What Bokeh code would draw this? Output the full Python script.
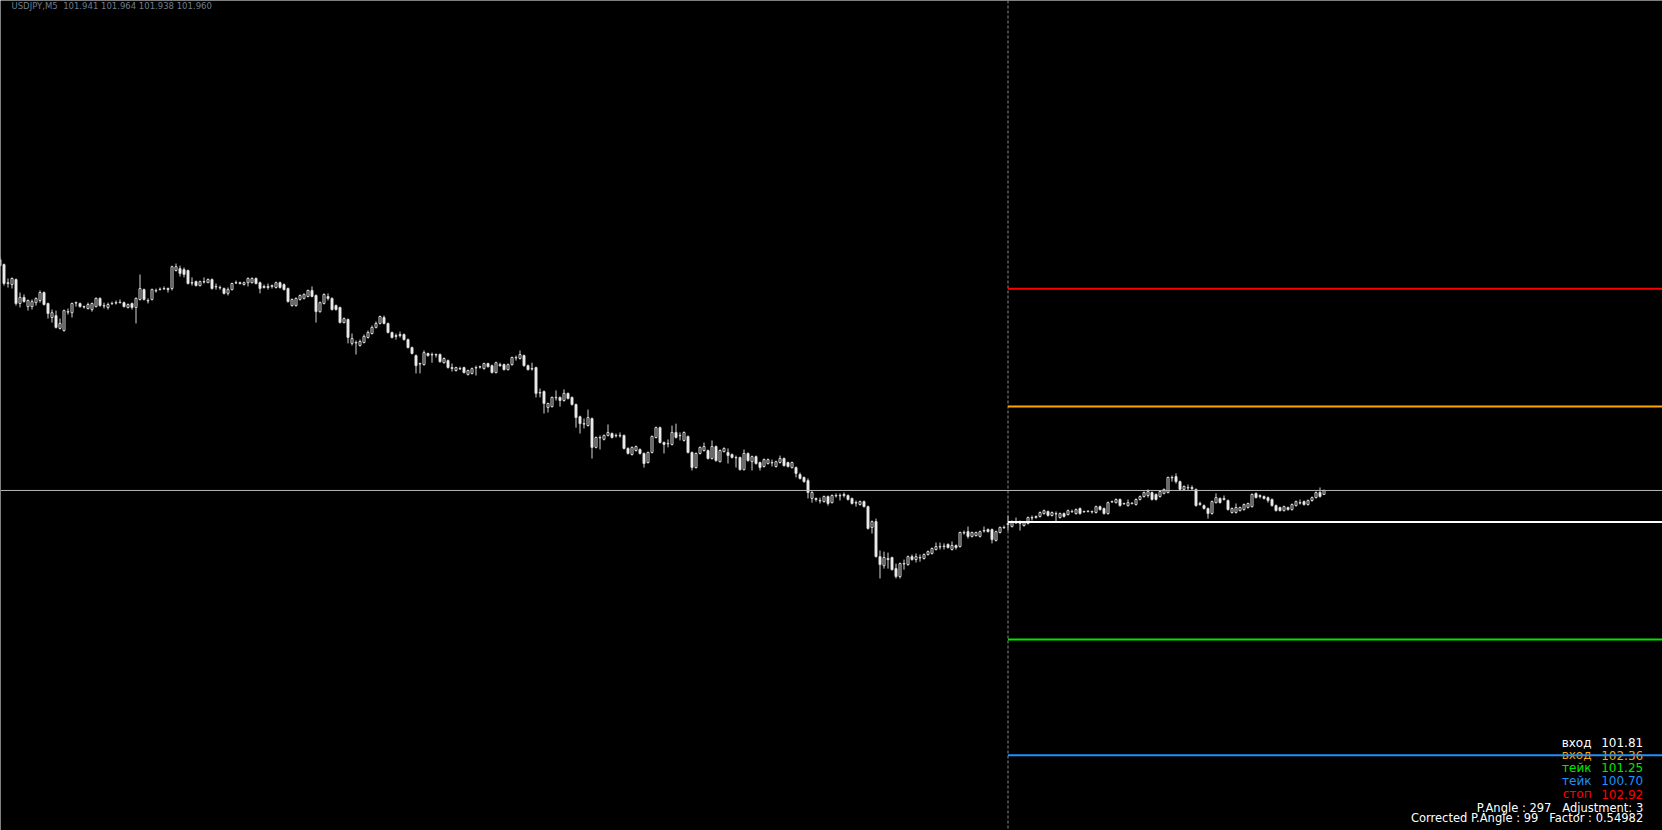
import numpy as np
from bokeh.plotting import figure
from bokeh.models import Range1d, Span, Label
from bokeh.embed import file_html
from bokeh.resources import INLINE

# ---------------- data (USDJPY M5) ----------------
symbol = "USDJPY,M5"

open_ = [
    103.059, 103.035, 102.945, 102.940, 102.964, 102.850, 102.879, 102.835, 102.835, 102.854,
    102.864, 102.902, 102.850, 102.783, 102.792, 102.731, 102.721, 102.811, 102.806, 102.854,
    102.850, 102.835, 102.826, 102.821, 102.835, 102.874, 102.840, 102.831, 102.850, 102.854,
    102.854, 102.854, 102.831, 102.850, 102.831, 102.869, 102.916, 102.864, 102.869, 102.912,
    102.916, 102.921, 102.921, 102.921, 103.007, 103.016, 103.011, 103.007, 102.949, 102.954,
    102.935, 102.954, 102.949, 102.964, 102.931, 102.926, 102.921, 102.898, 102.916, 102.949,
    102.949, 102.940, 102.949, 102.949, 102.969, 102.949, 102.931, 102.931, 102.931, 102.926,
    102.949, 102.940, 102.921, 102.840, 102.840, 102.869, 102.874, 102.883, 102.912, 102.888,
    102.811, 102.850, 102.883, 102.874, 102.840, 102.831, 102.759, 102.774, 102.660, 102.664,
    102.650, 102.664, 102.688, 102.707, 102.736, 102.755, 102.783, 102.755, 102.712, 102.697,
    102.702, 102.702, 102.678, 102.640, 102.602, 102.564, 102.559, 102.612, 102.607, 102.607,
    102.607, 102.568, 102.578, 102.545, 102.531, 102.540, 102.545, 102.512, 102.517, 102.545,
    102.549, 102.540, 102.564, 102.554, 102.521, 102.559, 102.559, 102.535, 102.559, 102.593,
    102.588, 102.602, 102.554, 102.540, 102.545, 102.426, 102.431, 102.355, 102.359, 102.403,
    102.403, 102.388, 102.422, 102.403, 102.369, 102.311, 102.278, 102.269, 102.302, 102.165,
    102.212, 102.203, 102.222, 102.231, 102.222, 102.222, 102.222, 102.160, 102.131, 102.150,
    102.155, 102.136, 102.093, 102.141, 102.212, 102.259, 102.188, 102.184, 102.179, 102.236,
    102.222, 102.198, 102.217, 102.141, 102.069, 102.136, 102.150, 102.150, 102.112, 102.169,
    102.097, 102.145, 102.141, 102.131, 102.117, 102.117, 102.059, 102.136, 102.097, 102.121,
    102.093, 102.074, 102.088, 102.093, 102.074, 102.093, 102.112, 102.093, 102.069, 102.069,
    102.036, 102.022, 102.007, 101.922, 101.922, 101.912, 101.907, 101.931, 101.902, 101.936,
    101.936, 101.941, 101.936, 101.922, 101.902, 101.893, 101.907, 101.883, 101.784, 101.812,
    101.645, 101.602, 101.636, 101.641, 101.588, 101.550, 101.612, 101.607, 101.645, 101.631,
    101.641, 101.636, 101.655, 101.660, 101.679, 101.693, 101.693, 101.703, 101.679, 101.698,
    101.693, 101.760, 101.764, 101.741, 101.745, 101.741, 101.769, 101.774, 101.774, 101.722,
    101.760, 101.784, 101.798, 101.788, 101.807, 101.812, 101.793, 101.803, 101.831, 101.831,
    101.836, 101.850, 101.860, 101.841, 101.850, 101.831, 101.850, 101.845, 101.860, 101.850,
    101.874, 101.860, 101.860, 101.860, 101.855, 101.883, 101.874, 101.850, 101.907, 101.902,
    101.917, 101.898, 101.888, 101.898, 101.893, 101.917, 101.931, 101.936, 101.950, 101.941,
    101.931, 101.946, 101.950, 102.022, 102.026, 102.002, 101.965, 101.974, 101.974, 101.965,
    101.893, 101.888, 101.874, 101.850, 101.902, 101.922, 101.917, 101.912, 101.855, 101.855,
    101.864, 101.869, 101.879, 101.883, 101.946, 101.931, 101.931, 101.926, 101.917, 101.888,
    101.879, 101.864, 101.879, 101.869, 101.888, 101.902, 101.907, 101.893, 101.912, 101.926,
    101.950, 101.941,
]

high = [
    103.073, 103.040, 102.969, 102.974, 102.969, 102.902, 102.893, 102.869, 102.869, 102.879,
    102.912, 102.907, 102.854, 102.821, 102.816, 102.778, 102.821, 102.826, 102.854, 102.859,
    102.854, 102.840, 102.854, 102.854, 102.879, 102.879, 102.854, 102.854, 102.859, 102.864,
    102.869, 102.859, 102.850, 102.854, 102.879, 102.988, 102.921, 102.874, 102.921, 102.921,
    102.926, 102.931, 102.926, 103.030, 103.040, 103.030, 103.021, 103.011, 102.974, 102.959,
    102.959, 102.974, 102.969, 102.969, 102.945, 102.935, 102.926, 102.926, 102.949, 102.959,
    102.954, 102.954, 102.974, 102.974, 102.974, 102.954, 102.940, 102.945, 102.940, 102.954,
    102.954, 102.945, 102.926, 102.874, 102.879, 102.893, 102.898, 102.916, 102.931, 102.893,
    102.859, 102.898, 102.898, 102.879, 102.845, 102.835, 102.783, 102.778, 102.707, 102.674,
    102.678, 102.702, 102.721, 102.745, 102.764, 102.792, 102.792, 102.759, 102.716, 102.707,
    102.716, 102.707, 102.683, 102.645, 102.607, 102.568, 102.626, 102.616, 102.616, 102.612,
    102.612, 102.593, 102.583, 102.564, 102.549, 102.549, 102.549, 102.535, 102.545, 102.554,
    102.554, 102.568, 102.568, 102.559, 102.573, 102.568, 102.564, 102.564, 102.597, 102.602,
    102.626, 102.607, 102.559, 102.568, 102.549, 102.445, 102.436, 102.378, 102.407, 102.436,
    102.407, 102.441, 102.426, 102.407, 102.374, 102.316, 102.302, 102.345, 102.307, 102.217,
    102.222, 102.226, 102.274, 102.236, 102.231, 102.236, 102.226, 102.165, 102.169, 102.174,
    102.160, 102.141, 102.145, 102.222, 102.264, 102.264, 102.193, 102.203, 102.269, 102.278,
    102.236, 102.241, 102.222, 102.145, 102.141, 102.169, 102.188, 102.155, 102.198, 102.174,
    102.155, 102.165, 102.160, 102.136, 102.126, 102.121, 102.155, 102.141, 102.126, 102.126,
    102.097, 102.112, 102.112, 102.107, 102.102, 102.126, 102.117, 102.097, 102.097, 102.074,
    102.045, 102.026, 102.017, 101.960, 101.926, 101.926, 101.936, 101.936, 101.941, 101.946,
    101.946, 101.950, 101.941, 101.926, 101.912, 101.912, 101.912, 101.888, 101.817, 101.826,
    101.674, 101.669, 101.664, 101.645, 101.612, 101.617, 101.631, 101.650, 101.655, 101.660,
    101.655, 101.660, 101.674, 101.688, 101.712, 101.712, 101.708, 101.708, 101.717, 101.703,
    101.764, 101.769, 101.788, 101.764, 101.764, 101.769, 101.788, 101.779, 101.779, 101.769,
    101.788, 101.793, 101.841, 101.817, 101.831, 101.817, 101.812, 101.836, 101.841, 101.841,
    101.860, 101.869, 101.864, 101.860, 101.860, 101.855, 101.855, 101.869, 101.869, 101.874,
    101.879, 101.864, 101.864, 101.864, 101.888, 101.888, 101.879, 101.907, 101.912, 101.922,
    101.922, 101.902, 101.917, 101.902, 101.922, 101.936, 101.955, 101.965, 101.955, 101.946,
    101.960, 101.969, 102.026, 102.031, 102.041, 102.007, 101.984, 101.988, 101.984, 101.969,
    101.907, 101.893, 101.879, 101.912, 101.946, 101.926, 101.936, 101.917, 101.879, 101.898,
    101.883, 101.898, 101.902, 101.946, 101.950, 101.941, 101.936, 101.931, 101.922, 101.893,
    101.883, 101.888, 101.883, 101.898, 101.912, 101.917, 101.912, 101.917, 101.931, 101.955,
    101.974, 101.964,
]

low = [
    103.025, 102.935, 102.926, 102.921, 102.840, 102.831, 102.854, 102.816, 102.821, 102.840,
    102.854, 102.840, 102.778, 102.759, 102.731, 102.726, 102.716, 102.797, 102.783, 102.835,
    102.831, 102.826, 102.821, 102.811, 102.831, 102.835, 102.826, 102.821, 102.845, 102.845,
    102.850, 102.831, 102.826, 102.821, 102.755, 102.864, 102.864, 102.850, 102.864, 102.902,
    102.912, 102.916, 102.902, 102.912, 103.002, 102.978, 102.974, 102.940, 102.935, 102.931,
    102.931, 102.945, 102.947, 102.916, 102.916, 102.916, 102.893, 102.888, 102.912, 102.945,
    102.940, 102.935, 102.931, 102.945, 102.940, 102.898, 102.921, 102.916, 102.921, 102.921,
    102.921, 102.912, 102.854, 102.835, 102.835, 102.864, 102.869, 102.879, 102.879, 102.759,
    102.806, 102.845, 102.864, 102.816, 102.816, 102.755, 102.755, 102.660, 102.650, 102.607,
    102.645, 102.660, 102.683, 102.702, 102.731, 102.750, 102.750, 102.707, 102.683, 102.678,
    102.688, 102.674, 102.636, 102.607, 102.517, 102.517, 102.554, 102.597, 102.568, 102.593,
    102.568, 102.564, 102.540, 102.526, 102.526, 102.535, 102.517, 102.507, 102.512, 102.507,
    102.540, 102.535, 102.545, 102.517, 102.517, 102.549, 102.531, 102.531, 102.554, 102.578,
    102.583, 102.549, 102.531, 102.531, 102.403, 102.403, 102.326, 102.331, 102.355, 102.388,
    102.359, 102.383, 102.393, 102.364, 102.259, 102.231, 102.255, 102.264, 102.112, 102.160,
    102.155, 102.198, 102.217, 102.207, 102.212, 102.212, 102.155, 102.131, 102.126, 102.145,
    102.131, 102.069, 102.088, 102.136, 102.207, 102.184, 102.136, 102.165, 102.174, 102.207,
    102.198, 102.193, 102.136, 102.055, 102.064, 102.131, 102.145, 102.107, 102.107, 102.097,
    102.093, 102.141, 102.088, 102.112, 102.069, 102.055, 102.055, 102.097, 102.055, 102.083,
    102.055, 102.069, 102.083, 102.074, 102.069, 102.088, 102.074, 102.069, 102.064, 102.022,
    102.012, 101.997, 101.922, 101.902, 101.907, 101.898, 101.902, 101.888, 101.898, 101.926,
    101.912, 101.926, 101.912, 101.893, 101.883, 101.888, 101.879, 101.774, 101.755, 101.641,
    101.541, 101.588, 101.588, 101.579, 101.541, 101.541, 101.583, 101.602, 101.626, 101.617,
    101.621, 101.631, 101.650, 101.655, 101.674, 101.679, 101.679, 101.684, 101.674, 101.679,
    101.688, 101.750, 101.731, 101.736, 101.741, 101.736, 101.760, 101.760, 101.708, 101.717,
    101.755, 101.779, 101.769, 101.784, 101.803, 101.769, 101.788, 101.798, 101.817, 101.826,
    101.831, 101.845, 101.836, 101.836, 101.807, 101.826, 101.831, 101.841, 101.855, 101.845,
    101.845, 101.855, 101.855, 101.850, 101.850, 101.864, 101.845, 101.845, 101.902, 101.898,
    101.883, 101.893, 101.883, 101.893, 101.888, 101.912, 101.926, 101.926, 101.912, 101.912,
    101.926, 101.941, 101.946, 102.002, 101.993, 101.960, 101.960, 101.960, 101.960, 101.883,
    101.888, 101.869, 101.826, 101.845, 101.898, 101.898, 101.912, 101.864, 101.850, 101.850,
    101.860, 101.864, 101.874, 101.879, 101.922, 101.922, 101.917, 101.902, 101.883, 101.860,
    101.860, 101.860, 101.864, 101.864, 101.883, 101.893, 101.888, 101.888, 101.907, 101.922,
    101.926, 101.938,
]

close = [
    103.030, 102.945, 102.949, 102.969, 102.850, 102.879, 102.859, 102.864, 102.859, 102.874,
    102.902, 102.845, 102.802, 102.806, 102.736, 102.755, 102.816, 102.809, 102.850, 102.852,
    102.835, 102.833, 102.845, 102.850, 102.874, 102.840, 102.838, 102.845, 102.848, 102.852,
    102.856, 102.835, 102.845, 102.831, 102.874, 102.921, 102.869, 102.862, 102.916, 102.910,
    102.918, 102.919, 102.916, 103.025, 103.025, 102.993, 102.988, 102.945, 102.947, 102.935,
    102.954, 102.952, 102.964, 102.921, 102.929, 102.924, 102.898, 102.916, 102.945, 102.947,
    102.945, 102.949, 102.969, 102.969, 102.945, 102.921, 102.926, 102.926, 102.935, 102.949,
    102.926, 102.916, 102.859, 102.869, 102.874, 102.888, 102.893, 102.912, 102.883, 102.811,
    102.854, 102.893, 102.874, 102.821, 102.821, 102.759, 102.778, 102.688, 102.683, 102.662,
    102.669, 102.693, 102.712, 102.736, 102.755, 102.788, 102.755, 102.712, 102.688, 102.693,
    102.697, 102.678, 102.640, 102.612, 102.554, 102.562, 102.616, 102.602, 102.605, 102.605,
    102.573, 102.588, 102.545, 102.540, 102.545, 102.538, 102.521, 102.531, 102.540, 102.543,
    102.547, 102.564, 102.549, 102.521, 102.568, 102.554, 102.535, 102.559, 102.593, 102.591,
    102.607, 102.554, 102.535, 102.538, 102.422, 102.424, 102.374, 102.374, 102.403, 102.401,
    102.388, 102.422, 102.398, 102.369, 102.307, 102.278, 102.276, 102.307, 102.165, 102.212,
    102.210, 102.222, 102.236, 102.212, 102.220, 102.220, 102.160, 102.136, 102.165, 102.169,
    102.136, 102.088, 102.141, 102.217, 102.259, 102.188, 102.179, 102.182, 102.236, 102.212,
    102.220, 102.236, 102.141, 102.069, 102.136, 102.165, 102.169, 102.112, 102.169, 102.102,
    102.150, 102.160, 102.126, 102.117, 102.115, 102.059, 102.136, 102.102, 102.121, 102.088,
    102.069, 102.107, 102.107, 102.091, 102.097, 102.112, 102.078, 102.074, 102.093, 102.041,
    102.017, 102.002, 101.950, 101.950, 101.917, 101.910, 101.931, 101.898, 101.936, 101.934,
    101.934, 101.936, 101.917, 101.898, 101.900, 101.907, 101.883, 101.779, 101.812, 101.645,
    101.607, 101.641, 101.631, 101.583, 101.550, 101.612, 101.610, 101.645, 101.631, 101.645,
    101.639, 101.655, 101.669, 101.684, 101.693, 101.691, 101.695, 101.688, 101.698, 101.688,
    101.760, 101.758, 101.741, 101.760, 101.760, 101.764, 101.767, 101.764, 101.726, 101.764,
    101.784, 101.782, 101.803, 101.812, 101.805, 101.803, 101.807, 101.831, 101.829, 101.836,
    101.855, 101.864, 101.841, 101.855, 101.848, 101.850, 101.836, 101.864, 101.858, 101.869,
    101.850, 101.858, 101.862, 101.858, 101.883, 101.869, 101.850, 101.902, 101.905, 101.917,
    101.888, 101.896, 101.902, 101.900, 101.917, 101.931, 101.950, 101.955, 101.917, 101.917,
    101.955, 101.965, 102.022, 102.020, 102.002, 101.965, 101.979, 101.972, 101.969, 101.888,
    101.898, 101.874, 101.850, 101.907, 101.926, 101.902, 101.922, 101.869, 101.874, 101.879,
    101.879, 101.893, 101.898, 101.941, 101.926, 101.936, 101.922, 101.912, 101.888, 101.864,
    101.864, 101.883, 101.869, 101.893, 101.907, 101.900, 101.893, 101.912, 101.926, 101.950,
    101.931, 101.960,
]

# trade levels (label, price) in the order they are listed in the panel
level_names = ["вход", "вход", "тейк", "тейк", "стоп"]
level_prices = [101.81, 102.36, 101.25, 100.70, 102.92]
level_colors = ["#ffffff", "#ffa500", "#00e600", "#1e90ff", "#ff0000"]

signal_bar = 252          # bar where the vertical marker / levels start
p_angle = 297
adjustment = 3
corrected_p_angle = 99
factor = 0.54982

# ---------------- layout constants ----------------
W, H = 1662, 830
PX_PER_BAR = 4.0
PX_PER_PRICE = 210.1
X_START = 0.125
Y_TOP = 104.292

CANDLE_LINE = "#d4d4d4"
BEAR_FILL = "#ffffff"
BULL_FILL = "#000000"
FONT = "DejaVu Sans"
NB = "\u00a0"

o = np.array(open_)
h = np.array(high)
l = np.array(low)
c = np.array(close)
idx = np.arange(len(o))

x_end = X_START + W / PX_PER_BAR
p = figure(
    width=W, height=H,
    x_range=Range1d(X_START, x_end),
    y_range=Range1d(Y_TOP - H / PX_PER_PRICE, Y_TOP),
    output_backend="svg", toolbar_location=None,
    x_axis_location=None, y_axis_location=None,
    background_fill_color="black", border_fill_color="black",
    min_border=0, outline_line_color=None,
)
p.grid.visible = False

# bid line (last close)
p.add_layout(Span(location=float(c[-1]), dimension="width",
                  line_color="#b8b8b8", line_width=1))

# vertical dashed marker
p.add_layout(Span(location=signal_bar, dimension="height",
                  line_color="#8c8c8c", line_width=1, line_dash="3 2"))

# candles
p.segment(x0=idx, y0=h, x1=idx, y1=l, line_color=CANDLE_LINE, line_width=1)
top = np.maximum(o, c)
bot = np.minimum(o, c)
top = np.where(top - bot < 0.0006, bot + 0.0006, top)
fills = [BULL_FILL if cc > oo else BEAR_FILL for oo, cc in zip(o, c)]
p.vbar(x=idx, width=0.5, top=top, bottom=bot, fill_color=fills,
       line_color=CANDLE_LINE, line_width=1)

# level lines
n_lv = len(level_prices)
p.segment(x0=[signal_bar] * n_lv, x1=[x_end] * n_lv,
          y0=level_prices, y1=level_prices,
          line_color=level_colors, line_width=2, level="overlay")

# header (top-left)
hdr = f"{symbol}{NB}{NB}{open_[-1]:.3f} {high[-1]:.3f} {low[-1]:.3f} {close[-1]:.3f}"
p.add_layout(Label(x=11, y=H - 5.5, x_units="screen", y_units="screen",
                   text=hdr, text_font=FONT, text_font_size="8.5px",
                   text_color="#6f7c8c", text_align="left",
                   text_baseline="alphabetic"))

# info panel (bottom right)
row_base = [88.0, 75.3, 62.7, 49.7, 36.3]
for name, price, col, yb in zip(level_names, level_prices, level_colors, row_base):
    p.add_layout(Label(x=1591, y=yb, x_units="screen", y_units="screen",
                       text=name, text_font=FONT, text_font_size="12px",
                       text_color=col, text_align="right",
                       text_baseline="alphabetic"))
    p.add_layout(Label(x=1642.7, y=yb, x_units="screen", y_units="screen",
                       text=f"{price:.2f}", text_font=FONT, text_font_size="12px",
                       text_color=col, text_align="right",
                       text_baseline="alphabetic"))

p.add_layout(Label(x=1642.7, y=23.0, x_units="screen", y_units="screen",
                   text=f"P.Angle : {p_angle}{NB}{NB} Adjustment: {adjustment}",
                   text_font=FONT, text_font_size="11.5px", text_color="#ffffff",
                   text_align="right", text_baseline="alphabetic"))
p.add_layout(Label(x=1642.7, y=12.5, x_units="screen", y_units="screen",
                   text=f"Corrected P.Angle : {corrected_p_angle}{NB}{NB} Factor : {factor}",
                   text_font=FONT, text_font_size="11.5px", text_color="#ffffff",
                   text_align="right", text_baseline="alphabetic"))

open("out.html", "w").write(file_html(p, INLINE))
